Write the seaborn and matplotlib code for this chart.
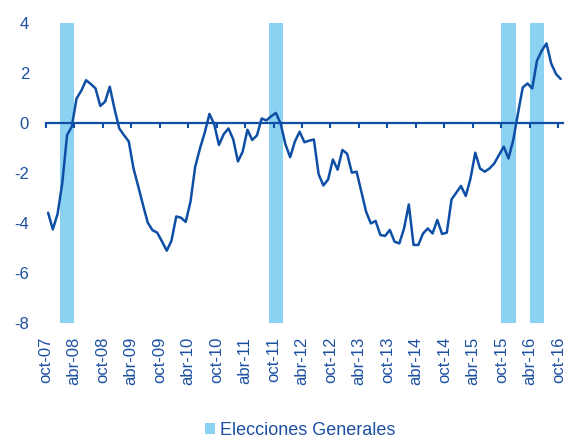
import seaborn as sns
import matplotlib.pyplot as plt
import numpy as np
import pandas as pd

sns.set_style("white")
plt.rcParams['font.family'] = ['Liberation Sans', 'DejaVu Sans']
plt.rcParams['axes.unicode_minus'] = False

# serie mensual oct-07 .. oct-16
valores = [-3.6, -4.27, -3.65, -2.4, -0.5, -0.15, 0.97, 1.28, 1.7, 1.55,
           1.37, 0.67, 0.84, 1.44, 0.55, -0.23, -0.5, -0.75, -1.83, -2.55,
           -3.29, -4.0, -4.3, -4.4, -4.75, -5.12, -4.72, -3.75, -3.8, -3.97,
           -3.16, -1.76, -1.03, -0.4, 0.35, -0.06, -0.89, -0.46, -0.23, -0.66,
           -1.55, -1.16, -0.28, -0.69, -0.51, 0.17, 0.09, 0.26, 0.39, -0.04,
           -0.86, -1.38, -0.75, -0.36, -0.78, -0.72, -0.67, -2.06, -2.51, -2.27,
           -1.47, -1.88, -1.09, -1.24, -2.0, -1.96, -2.76, -3.56, -4.03, -3.93,
           -4.49, -4.53, -4.29, -4.76, -4.83, -4.23, -3.27, -4.89, -4.89, -4.43,
           -4.23, -4.43, -3.89, -4.45, -4.4, -3.07, -2.8, -2.53, -2.93, -2.23,
           -1.2, -1.83, -1.96, -1.83, -1.63, -1.29, -0.96, -1.43, -0.69, 0.37,
           1.41, 1.57, 1.37, 2.48, 2.88, 3.17, 2.37, 1.95, 1.75]

# meses con elecciones generales (posición desde oct-07)
meses_elecciones = [3, 4, 5, 47, 48, 49, 96, 97, 98, 102, 103, 104]
elec_base = -8
elec_top = 4

etiquetas = ["oct-07", "abr-08", "oct-08", "abr-09", "oct-09", "abr-10", "oct-10",
             "abr-11", "oct-11", "abr-12", "oct-12", "abr-13", "oct-13", "abr-14",
             "oct-14", "abr-15", "oct-15", "abr-16", "oct-16"]

azul = "#0E4FA5"
azul_txt = "#1B50A2"
celeste = "#8AD1F2"

df = pd.DataFrame({"mes": np.arange(len(valores)) + 0.5, "valor": valores})

fig = plt.figure(figsize=(5.72, 4.37), dpi=100)
ax = fig.add_axes([0.0799, 0.2616, 0.9045, 0.6864])

ax.bar(meses_elecciones, elec_top - elec_base, bottom=elec_base, width=1.0,
       align="edge", color=celeste, linewidth=0, zorder=1,
       label="Elecciones Generales")
sns.lineplot(x="mes", y="valor", data=df, color=azul, linewidth=1.8, ax=ax,
             zorder=3, legend=False)

ax.set_xlim(0, len(valores))
ax.set_ylim(-8, 4)
ax.set_xlabel("")
ax.set_ylabel("")

ax.set_yticks(np.arange(-8, 5, 2))
ax.set_yticklabels([str(v) for v in range(-8, 5, 2)])
ax.set_xticks(np.arange(0, len(valores), 6))
ax.set_xticklabels(etiquetas, rotation=90)
ax.tick_params(axis="both", length=0, labelsize=12, labelcolor=azul_txt)
ax.tick_params(axis="x", pad=10)
ax.tick_params(axis="y", pad=12)
for s in ax.spines.values():
    s.set_visible(False)

# eje horizontal en el cero con marcas
cero = ax.secondary_xaxis(8 / 12)
cero.set_alignment("bottom")
cero.set_xticks(np.arange(0, len(valores) + 1, 6))
cero.tick_params(axis="x", direction="out", length=3.5, width=1.5, color=azul,
                 labelbottom=False, labeltop=False)
cero.spines["bottom"].set_color(azul)
cero.spines["bottom"].set_linewidth(1.6)
cero.set_zorder(5)

fig.legend(loc="center", bbox_to_anchor=(0.525, 0.016), frameon=False,
           fontsize=13, labelcolor=azul_txt, handlelength=0.55, handleheight=0.55,
           handletextpad=0.3, borderpad=0)

fig.savefig("out.png", dpi=100)
